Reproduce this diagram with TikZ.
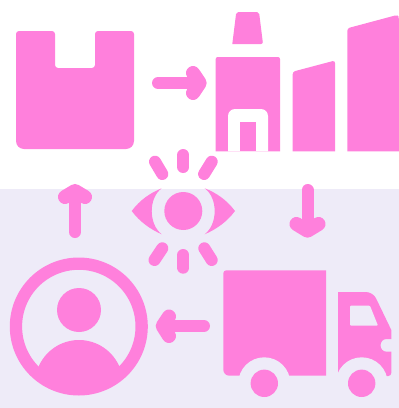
\documentclass[tikz,border=0pt]{standalone}
\definecolor{iconpink}{HTML}{FF80DC}
\definecolor{lowerbg}{HTML}{EEEBF8}

\begin{document}
\begin{tikzpicture}[
  x=1pt, y=-1pt,
  icon/.style={fill=iconpink, draw=none},
  cutlow/.style={fill=lowerbg, draw=none},
  flow/.style={draw=iconpink, line width=12pt, line cap=round, line join=round},
  head/.style={draw=iconpink, line width=14pt, line cap=round, line join=round},
  ray/.style={draw=iconpink, line width=12pt, line cap=round}
]
  \useasboundingbox (0,0) rectangle (399,408);
  \fill[white] (0,0) rectangle (399,189);
  \fill[lowerbg] (0,189) rectangle (399,408);

  \fill[icon] (16,90) [rounded corners=3pt] -- (16,31) -- (55,31) -- (55,68) -- (95,68) -- (95,31) -- (134,31) -- (134,90)
    [rounded corners=8pt] -- (134,149) -- (16,149) -- cycle;

  \fill[icon, rounded corners=2pt] (232.3,44) -- (236.3,12) -- (259,12) -- (263,44) [sharp corners] -- cycle;
  \fill[icon] (215.7,151.3) [rounded corners=2pt] -- (215.7,57) -- (280,57) [sharp corners] -- (280,151.3) -- cycle;
  \fill[white] (228,151.3) [rounded corners=7pt] -- (228,109) -- (268,109) [sharp corners] -- (268,151.3) -- cycle;
  \fill[icon] (240,121.7) rectangle (255.7,151.3);
  \fill[icon] (292.7,151.3) [rounded corners=2.5pt] -- (292.7,71.7) -- (335,60.5) [sharp corners] -- (335,151.3) -- cycle;
  \fill[icon] (347.3,151.3) [rounded corners=2.5pt] -- (347.3,28.3) -- (397,15) -- (399,17) [sharp corners] -- (399,151.3) -- cycle;

  \coordinate (boxout) at (158,83);
  \coordinate (plantin) at (199.7,83);
  \draw[flow] (boxout) -- (plantin);
  \draw[head] (193,73) -- (plantin) -- (193,93);

  \coordinate (plantout) at (307.5,190);
  \coordinate (truckin) at (307.5,230.7);
  \draw[flow] (plantout) -- (truckin);
  \draw[head] (296.5,224) -- (truckin) -- (318.5,224);

  \coordinate (truckout) at (204,326);
  \coordinate (personin) at (162.7,326);
  \draw[flow] (truckout) -- (personin);
  \draw[head] (169,316.5) -- (personin) -- (169,336);

  \coordinate (personout) at (75,232);
  \coordinate (boxin) at (75,191);
  \draw[flow] (personout) -- (boxin);
  \draw[head] (65,197) -- (boxin) -- (85,197);

  \fill[icon] (183.3,211) circle (19pt);
  \fill[icon] (131.7,211) .. controls (140,200) and (150,193) .. (161.7,188.3)
    .. controls (148.4,198) and (148.4,224) .. (161.7,234.3)
    .. controls (150,229) and (140,222) .. (131.7,211) -- cycle;
  \fill[icon] (235,211) .. controls (226.7,200) and (216.7,193) .. (204.7,188.3)
    .. controls (218,198) and (218,224) .. (204.7,234.3)
    .. controls (216.7,229) and (226.7,222) .. (235,211) -- cycle;
  \draw[ray] (183.3,155) -- (183.3,167);
  \draw[ray] (183.3,255) -- (183.3,267.7);
  \draw[ray] (155,161.7) -- (162.3,174);
  \draw[ray] (211.7,161.7) -- (204.1,174);
  \draw[ray] (162.3,248.3) -- (154.5,260);
  \draw[ray] (204.3,248.3) -- (211.7,260);

  \draw[draw=iconpink, line width=12.3pt] (78.8,326.5) circle (62.85pt);
  \fill[icon] (79,310) circle (22pt);
  \begin{scope}
    \clip (78.8,326.5) circle (66pt);
    \fill[icon] (79,384) circle (44pt);
  \end{scope}

  \fill[icon] (223.3,320) [rounded corners=3pt] -- (223.3,270.3) [sharp corners] -- (326,270.3) -- (326,375.7)
    [rounded corners=6pt] -- (223.3,375.7) [sharp corners] -- cycle;
  \fill[icon] (338,375) -- (338,292) [rounded corners=7pt] -- (373,292) [sharp corners] -- (391.3,330) -- (391.3,339) -- (386.7,339)
    .. controls (378.5,339) and (378.5,351.7) .. (386.7,351.7) -- (391.3,351.7) -- (391.3,372)
    [rounded corners=3pt] -- (391.3,376) -- (380,376) [sharp corners] -- cycle;
  \fill[cutlow, rounded corners=1pt] (350,305.7) -- (370,305.7) -- (378,325.7) -- (350,325.7) -- cycle;
  \fill[cutlow] (264.3,383.3) circle (26pt);
  \fill[cutlow] (361.7,383.3) circle (26pt);
  \fill[icon] (264.3,383.3) circle (13.7pt);
  \fill[icon] (361.7,383.3) circle (13.7pt);
\end{tikzpicture}
\end{document}
